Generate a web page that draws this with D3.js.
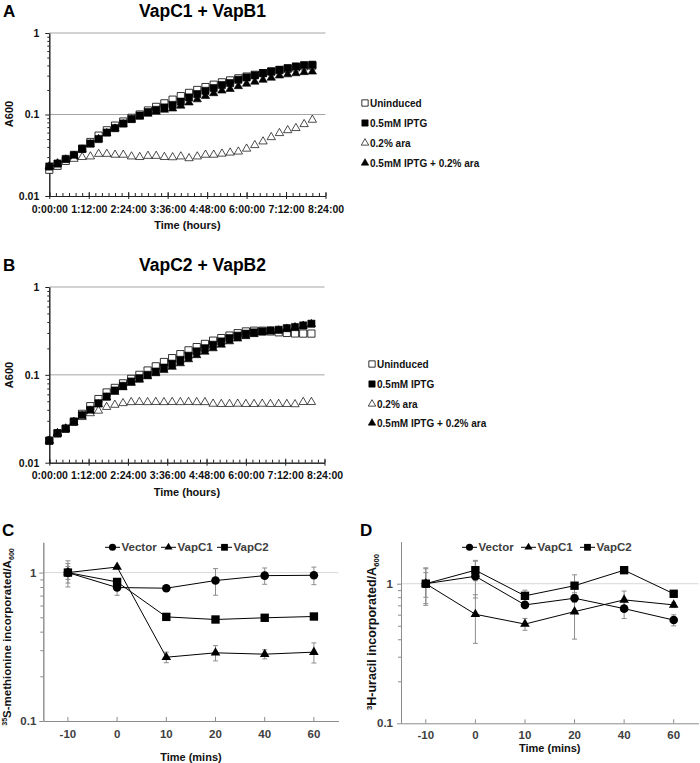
<!DOCTYPE html>
<html><head><meta charset="utf-8">
<script src="https://cdn.jsdelivr.net/npm/d3@7"></script>
<style>
html,body{margin:0;padding:0;background:#fff;}
svg{display:block;font-family:"Liberation Sans",Arial,sans-serif;}
</style></head>
<body>
<svg id="chart" width="700" height="763"></svg>
<script>
// ---------------- DATA ----------------
const growthTimes = [0,15,30,45,60,75,90,105,120,135,150,165,180,195,210,225,240,255,270,285,300,315,330,345,360,375,390,405,420,435,450,465,480];
const growthTickMinutes = [0,72,144,216,288,360,432,504];
const growthTickLabels = ["0:00:00","1:12:00","2:24:00","3:36:00","4:48:00","6:00:00","7:12:00","8:24:00"];
const growthYTicks = [0.01,0.1,1];
const growthYTickLabels = ["0.01","0.1","1"];
const growthLegend = ["Uninduced","0.5mM IPTG","0.2% ara","0.5mM IPTG + 0.2% ara"];

// Panel A: VapC1 + VapB1
const aUninduced = [0.021,0.0235,0.027,0.031,0.038,0.046,0.055,0.064,0.073,0.082,0.091,0.100,0.112,0.124,0.137,0.152,0.168,0.184,0.200,0.217,0.232,0.248,0.262,0.278,0.292,0.307,0.322,0.336,0.350,0.364,0.378,0.390,0.398];
const aIPTG = [0.023,0.025,0.0285,0.032,0.038,0.044,0.050,0.060,0.068,0.0775,0.088,0.097,0.107,0.114,0.122,0.131,0.144,0.162,0.178,0.195,0.211,0.230,0.243,0.267,0.285,0.302,0.322,0.338,0.354,0.371,0.389,0.404,0.408];
const aAra = [0.023,0.025,0.0277,0.0285,0.030,0.0305,0.0328,0.0328,0.032,0.032,0.0305,0.030,0.031,0.031,0.030,0.0298,0.0305,0.029,0.0305,0.032,0.032,0.033,0.034,0.035,0.038,0.042,0.0466,0.0526,0.059,0.064,0.068,0.076,0.086];
const aIPTGAra = [0.023,0.025,0.028,0.031,0.037,0.043,0.050,0.059,0.067,0.076,0.086,0.094,0.102,0.108,0.114,0.118,0.128,0.140,0.153,0.168,0.182,0.196,0.205,0.222,0.238,0.252,0.266,0.282,0.300,0.310,0.320,0.330,0.335];

// Panel B: VapC2 + VapB2
const bUninduced = [0.0178,0.0216,0.0244,0.0292,0.0360,0.0440,0.0530,0.0630,0.0710,0.0800,0.0900,0.100,0.112,0.125,0.140,0.155,0.172,0.190,0.207,0.225,0.245,0.262,0.280,0.298,0.312,0.318,0.318,0.312,0.305,0.300,0.296,0.295,0.295];
const bIPTG = [0.0178,0.0216,0.0244,0.0294,0.0347,0.0399,0.0475,0.0566,0.0663,0.0749,0.0839,0.0916,0.100,0.109,0.121,0.134,0.148,0.165,0.185,0.201,0.220,0.240,0.262,0.279,0.294,0.304,0.312,0.321,0.326,0.340,0.350,0.365,0.382];
const bAra = [0.0178,0.0216,0.0244,0.029,0.033,0.0365,0.039,0.043,0.0455,0.0475,0.0488,0.049,0.0488,0.049,0.0488,0.049,0.0488,0.049,0.0488,0.0488,0.0468,0.0465,0.0465,0.0468,0.0465,0.0465,0.0468,0.0465,0.0465,0.0465,0.0462,0.049,0.049];
const bIPTGAra = [0.0178,0.0216,0.0244,0.029,0.034,0.039,0.046,0.055,0.064,0.072,0.081,0.088,0.096,0.104,0.113,0.123,0.135,0.150,0.167,0.183,0.200,0.220,0.240,0.258,0.275,0.290,0.302,0.312,0.320,0.335,0.348,0.362,0.378];

// Panels C and D
const timeCategories = ["-10","0","10","20","40","60"];
const incLegend = ["Vector","VapC1","VapC2"];
const incYTicks = [0.1,1];
const incYTickLabels = ["0.1","1"];

const cVector = [1.0,0.793,0.785,0.884,0.954,0.959];
const cVectorErr = [0.2,0.09,0.03,0.18,0.12,0.13];
const cVapC1 = [1.0,1.09,0.269,0.288,0.282,0.291];
const cVapC1Err = [0.1,0.02,0.022,0.034,0.02,0.045];
const cVapC2 = [1.0,0.865,0.503,0.483,0.496,0.506];
const cVapC2Err = [0.15,0.03,0.02,0.02,0.02,0.015];

const dVector = [1.0,1.13,0.705,0.787,0.663,0.549];
const dVectorErr = [0.3,0.34,0.03,0.05,0.1,0.05];
const dVapC1 = [1.0,0.604,0.514,0.631,0.766,0.705];
const dVapC1Err = [0.28,0.23,0.05,0.23,0.12,0.03];
const dVapC2 = [1.0,1.25,0.819,0.968,1.25,0.847];
const dVapC2Err = [0.2,0.2,0.08,0.19,0.02,0.02];

// ---------------- DRAWING ----------------
const svg = d3.select("#chart");
const FONT = '"Liberation Sans",Arial,sans-serif';

function minorLogTicks(lo, hi){
  const out=[];
  for(let p=Math.floor(Math.log10(lo)); p<Math.ceil(Math.log10(hi)); p++){
    for(let m=2;m<=9;m++){ const v=m*Math.pow(10,p); if(v>lo && v<hi) out.push(v);}
  }
  return out;
}

function styleAxis(g, color, fontSize, fill){
  g.select(".domain").attr("stroke", color).attr("stroke-width",1);
  g.selectAll(".tick line").attr("stroke", color);
  g.selectAll(".tick text").attr("font-family",FONT).attr("font-weight","bold")
    .attr("font-size",fontSize).attr("fill",fill);
}

function growthPanel(cfg){
  const g = svg.append("g");
  const x = d3.scaleLinear().domain([0,504]).range(cfg.xRange);
  const y = d3.scaleLog().domain([0.01,1]).range(cfg.yRange);

  g.selectAll("line.grid").data([0.1,1]).join("line")
    .attr("x1",cfg.xRange[0]).attr("x2",cfg.xRange[1])
    .attr("y1",d=>y(d)).attr("y2",d=>y(d))
    .attr("stroke","#a6a6a6").attr("stroke-width",1);

  const xm = g.append("g").attr("transform",`translate(0,${cfg.yRange[0]})`)
    .call(d3.axisBottom(x).tickValues(d3.range(0,505,12)).tickSizeInner(-3).tickSizeOuter(0).tickFormat(""));
  styleAxis(xm,"#222",10,"#000");
  const xa = g.append("g").attr("transform",`translate(0,${cfg.yRange[0]})`)
    .call(d3.axisBottom(x).tickValues(growthTickMinutes).tickSizeInner(3).tickSizeOuter(0)
      .tickPadding(cfg.xPad).tickFormat((d,i)=>growthTickLabels[i]));
  styleAxis(xa,"#222","10.5px","#111");
  xa.selectAll(".tick").append("line").attr("y2",-4).attr("stroke","#222");

  const ym = g.append("g").attr("transform",`translate(${cfg.xRange[0]},0)`)
    .call(d3.axisLeft(y).tickValues(minorLogTicks(0.01,1)).tickSizeInner(2).tickSizeOuter(0).tickFormat(""));
  styleAxis(ym,"#222",10,"#000");
  const ya = g.append("g").attr("transform",`translate(${cfg.xRange[0]},0)`)
    .call(d3.axisLeft(y).tickValues(growthYTicks).tickSizeInner(4).tickSizeOuter(0).tickPadding(6)
      .tickFormat((d,i)=>growthYTickLabels[i]));
  styleAxis(ya,"#222","10.5px","#111");

  g.append("text").attr("x",(cfg.xRange[0]+cfg.xRange[1])/2).attr("y",cfg.xTitleY)
    .attr("text-anchor","middle").attr("font-weight","bold").attr("font-size","11px").attr("fill","#111")
    .text("Time (hours)");
  g.append("text").attr("transform",`translate(13,${cfg.yTitleY}) rotate(-90)`)
    .attr("text-anchor","middle").attr("font-weight","bold").attr("font-size","11px").attr("fill","#111")
    .text("A600");

  g.append("text").attr("x",cfg.titleX).attr("y",cfg.titleY).attr("text-anchor","middle")
    .attr("font-weight","bold").attr("font-size","17.5px").attr("fill","#000").text(cfg.title);
  g.append("text").attr("x",3).attr("y",cfg.titleY).attr("font-weight","bold")
    .attr("font-size","17px").attr("fill","#000").text(cfg.letter);

  const styles = [
    {sym:d3.symbolSquare, size:52, fill:"#fff", stroke:"#000", sw:0.8},
    {sym:d3.symbolSquare, size:52, fill:"#000", stroke:"#000", sw:0.6},
    {sym:d3.symbolTriangle, size:30, fill:"#fff", stroke:"#000", sw:0.7},
    {sym:d3.symbolTriangle, size:30, fill:"#000", stroke:"#000", sw:0.6}
  ];
  cfg.series.forEach((vals,si)=>{
    const st = styles[si];
    g.append("g").selectAll("path").data(vals).join("path")
      .attr("transform",(d,i)=>`translate(${x(growthTimes[i])},${y(d)})`)
      .attr("d",d3.symbol().type(st.sym).size(st.size)())
      .attr("fill",st.fill).attr("stroke",st.stroke).attr("stroke-width",st.sw);
  });

  const lg = g.append("g");
  const lstyles = [
    {sym:d3.symbolSquare, size:40, fill:"#fff", stroke:"#000", sw:0.8},
    {sym:d3.symbolSquare, size:40, fill:"#000", stroke:"#000", sw:0.6},
    {sym:d3.symbolTriangle, size:24, fill:"#fff", stroke:"#000", sw:0.7},
    {sym:d3.symbolTriangle, size:24, fill:"#000", stroke:"#000", sw:0.6}
  ];
  growthLegend.forEach((name,i)=>{
    const yy = cfg.legendY[i];
    lg.append("path").attr("transform",`translate(${cfg.legendX},${yy})`)
      .attr("d",d3.symbol().type(lstyles[i].sym).size(lstyles[i].size)())
      .attr("fill",lstyles[i].fill).attr("stroke",lstyles[i].stroke).attr("stroke-width",lstyles[i].sw);
    lg.append("text").attr("x",cfg.legendX+5).attr("y",yy+3.6).attr("font-weight","bold")
      .attr("font-size","10px").attr("fill","#111").text(name);
  });
}

growthPanel({
  title:"VapC1 + VapB1", letter:"A", titleX:202.5, titleY:16.5,
  xRange:[49.3,325.5], yRange:[196,33], xPad:7, xTitleY:229, yTitleY:114,
  series:[aUninduced,aIPTG,aAra,aIPTGAra],
  legendX:365, legendY:[103,123,143,163]
});
growthPanel({
  title:"VapC2 + VapB2", letter:"B", titleX:202.5, titleY:271,
  xRange:[49.3,324.5], yRange:[462.7,287], xPad:5.5, xTitleY:495.5, yTitleY:375,
  series:[bUninduced,bIPTG,bAra,bIPTGAra],
  legendX:372, legendY:[364,384,404,423]
});

function incPanel(cfg){
  const g = svg.append("g");
  const x = d3.scaleBand().domain(timeCategories).range(cfg.xRange);
  const cx = d => x(d)+x.bandwidth()/2;
  const y = d3.scaleLog().domain([0.1,cfg.yMax]).range(cfg.yRange);

  g.append("line").attr("x1",cfg.xRange[0]).attr("x2",cfg.xRange[1])
    .attr("y1",y(1)).attr("y2",y(1)).attr("stroke","#d9d9d9").attr("stroke-width",1);

  const ym = g.append("g").attr("transform",`translate(${cfg.xRange[0]},0)`)
    .call(d3.axisLeft(y).tickValues(minorLogTicks(0.1,cfg.yMax)).tickSizeInner(3).tickSizeOuter(0).tickFormat(""));
  styleAxis(ym,"#8c8c8c",10,"#000");
  const ya = g.append("g").attr("transform",`translate(${cfg.xRange[0]},0)`)
    .call(d3.axisLeft(y).tickValues(incYTicks).tickSizeInner(4).tickSizeOuter(0).tickPadding(cfg.yPad)
      .tickFormat((d,i)=>incYTickLabels[i]));
  styleAxis(ya,"#8c8c8c","11.5px","#404040");

  const xa = g.append("g").attr("transform",`translate(0,${cfg.yRange[0]})`)
    .call(d3.axisBottom(x).tickSizeInner(-4).tickSizeOuter(0).tickPadding(cfg.xPad));
  styleAxis(xa,"#8c8c8c","11.5px","#404040");

  g.append("text").attr("x",(cfg.xRange[0]+cfg.xRange[1])/2).attr("y",cfg.xTitleY)
    .attr("text-anchor","middle").attr("font-weight","bold").attr("font-size","11px").attr("fill","#111")
    .text("Time (mins)");

  const yt = g.append("text").attr("transform",`translate(${cfg.yTitleX},${cfg.yTitleY}) rotate(-90)`)
    .attr("text-anchor","middle").attr("font-weight","bold").attr("font-size",cfg.yTitleSize).attr("fill","#111");
  const sub = parseFloat(cfg.yTitleSize)*0.62;
  yt.append("tspan").attr("font-size",sub).attr("dy",-4).text(cfg.yTitleSup);
  yt.append("tspan").attr("dy",4).text(cfg.yTitleMain);
  yt.append("tspan").attr("font-size",sub).attr("dy",2.5).text("600");

  g.append("text").attr("x",cfg.letterX).attr("y",536).attr("font-weight","bold")
    .attr("font-size","17px").attr("fill","#000").text(cfg.letter);

  const syms = [d3.symbolCircle, d3.symbolTriangle, d3.symbolSquare];
  const sizes = [58,40,70];
  const lsizes = [40,28,46];

  cfg.series.forEach(s=>{
    const eg = g.append("g").attr("stroke","#8c8c8c").attr("stroke-width",1);
    s.v.forEach((v,i)=>{
      const xx = cx(timeCategories[i]);
      const hi = y(v+s.e[i]), lo = y(Math.max(0.101,v-s.e[i]));
      eg.append("line").attr("x1",xx).attr("x2",xx).attr("y1",hi).attr("y2",lo);
      eg.append("line").attr("x1",xx-2.5).attr("x2",xx+2.5).attr("y1",hi).attr("y2",hi);
      eg.append("line").attr("x1",xx-2.5).attr("x2",xx+2.5).attr("y1",lo).attr("y2",lo);
    });
  });
  const line = d3.line().x((d,i)=>cx(timeCategories[i])).y(d=>y(d));
  cfg.series.forEach(s=>{
    g.append("path").attr("d",line(s.v)).attr("fill","none").attr("stroke","#000").attr("stroke-width",1);
  });
  cfg.series.forEach((s,si)=>{
    g.append("g").selectAll("path").data(s.v).join("path")
      .attr("transform",(d,i)=>`translate(${cx(timeCategories[i])},${y(d)})`)
      .attr("d",d3.symbol().type(syms[si]).size(sizes[si])()).attr("fill","#000");
  });

  incLegend.forEach((name,i)=>{
    const x0 = cfg.legendX[i], yy = 547.3;
    g.append("line").attr("x1",x0).attr("x2",x0+15).attr("y1",yy).attr("y2",yy).attr("stroke","#000");
    g.append("path").attr("transform",`translate(${x0+7.5},${yy})`)
      .attr("d",d3.symbol().type(syms[i]).size(lsizes[i])()).attr("fill","#000");
    g.append("text").attr("x",x0+16.5).attr("y",yy+4).attr("font-weight","bold")
      .attr("font-size","11.5px").attr("fill","#404040").text(name);
  });
}

incPanel({
  letter:"C", letterX:2, xRange:[43.3,338.5], yRange:[721,542.3], yMax:1.6,
  xPad:9, yPad:3, xTitleY:761,
  yTitleX:11, yTitleY:637, yTitleSize:"11.5px", yTitleSup:"35", yTitleMain:"S-methionine incorporated/A",
  series:[{v:cVector,e:cVectorErr},{v:cVapC1,e:cVapC1Err},{v:cVapC2,e:cVapC2Err}],
  legendX:[105,161,217]
});
incPanel({
  letter:"D", letterX:360, xRange:[401,698.5], yRange:[723.3,541.7], yMax:2,
  xPad:7.5, yPad:4, xTitleY:752,
  yTitleX:376, yTitleY:632, yTitleSize:"12.5px", yTitleSup:"3", yTitleMain:"H-uracil incorporated/A",
  series:[{v:dVector,e:dVectorErr},{v:dVapC1,e:dVapC1Err},{v:dVapC2,e:dVapC2Err}],
  legendX:[462,521,580]
});
</script>
</body></html>
